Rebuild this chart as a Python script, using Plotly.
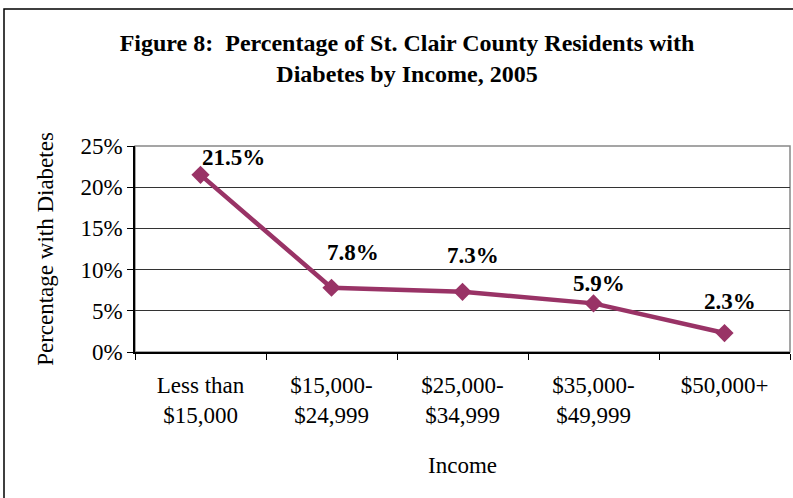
import plotly.graph_objects as go

categories = ["Less than<br>$15,000", "$15,000-<br>$24,999", "$25,000-<br>$34,999", "$35,000-<br>$49,999", "$50,000+"]
values = [21.5, 7.8, 7.3, 5.9, 2.3]
labels = ["21.5%", "7.8%", "7.3%", "5.9%", "2.3%"]
label_dx = [33, 21, 10, 5, 5]
label_dy = [17, 35, 36, 20, 32]
y_ticks = [0, 5, 10, 15, 20, 25]
y_ticklabels = ["0%", "5%", "10%", "15%", "20%", "25%"]

W, H = 793, 498
L, R, T, B = 135, 3, 146, 146
pw, ph = W - L - R, H - T - B
font = "Liberation Serif, Times New Roman, serif"
FS = 23

fig = go.Figure()
fig.add_trace(go.Scatter(
    x=categories, y=values, mode="lines+markers",
    line=dict(color="#993366", width=4.5),
    marker=dict(symbol="diamond", size=14, color="#993366"),
    cliponaxis=False, showlegend=False,
))

for c, v, t, dx, dy in zip(categories, values, labels, label_dx, label_dy):
    fig.add_annotation(x=c, y=v, text=f"<b>{t}</b>", showarrow=False,
                       xshift=dx, yshift=dy,
                       font=dict(family=font, size=FS, color="black"))

# outer border
fig.add_shape(type="rect", xref="paper", yref="paper",
              x0=(4 - L) / pw, x1=(W + 5 - L) / pw,
              y0=(H - B - (H + 5)) / ph, y1=(H - B - 9) / ph,
              line=dict(color="black", width=1.5), layer="below")
# plot area border
fig.add_shape(type="rect", xref="paper", yref="paper", x0=0, x1=1, y0=0, y1=1,
              line=dict(color="#888888", width=1.5), layer="below")

fig.update_layout(
    width=W, height=H,
    margin=dict(l=L, r=R, t=T, b=B),
    paper_bgcolor="white", plot_bgcolor="white",
    font=dict(family=font, size=FS, color="black"),
    title=dict(text="<b>Figure 8:  Percentage of St. Clair County Residents with<br>Diabetes by Income, 2005</b>",
               x=407 / W, xanchor="center", y=1 - 51 / H, yanchor="middle",
               font=dict(family=font, size=24, color="black")),
    xaxis=dict(type="category", range=[-0.5, 4.5], showgrid=False,
               showline=True, linecolor="black", linewidth=1.5,
               ticks="outside", tickson="boundaries", ticklen=6, tickcolor="black",
               tickfont=dict(family=font, size=FS), ticklabelstandoff=12,
               title=dict(text="Income", font=dict(family=font, size=FS), standoff=30)),
    yaxis=dict(range=[0, 25], tickvals=y_ticks, ticktext=y_ticklabels,
               showgrid=True, gridcolor="#333333", gridwidth=1,
               showline=True, linecolor="black", linewidth=1.5,
               ticks="outside", ticklen=6, tickcolor="black",
               tickfont=dict(family=font, size=FS), zeroline=False,
               title=dict(text="Percentage with Diabetes", font=dict(family=font, size=FS), standoff=20)),
)

fig.write_html("out.html", config={"displayModeBar": False},
               post_script="document.body.style.margin='0px';")
